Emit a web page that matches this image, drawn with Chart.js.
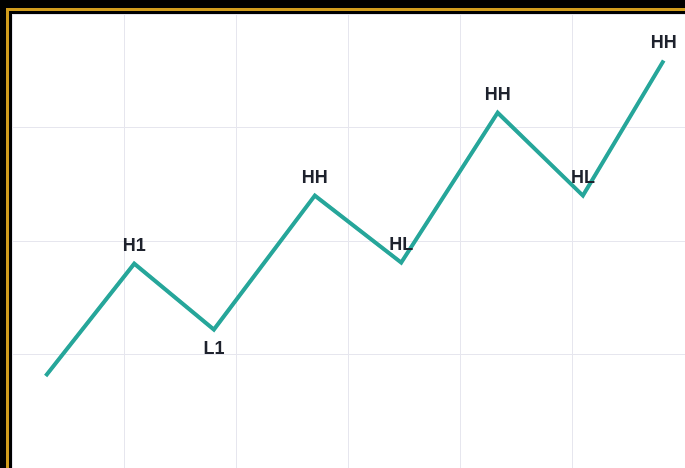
<!DOCTYPE html>
<html>
<head>
<meta charset="utf-8">
<script src="https://cdn.jsdelivr.net/npm/chart.js@4.4.0/dist/chart.umd.min.js"></script>
<style>
  html, body { margin: 0; padding: 0; background: #000; width: 685px; height: 468px; overflow: hidden; }
  .frame { position: absolute; left: 6px; top: 8px; width: 700px; height: 500px; border: 3px solid #d19c1d; box-sizing: border-box; background: #000; }
  .box { position: absolute; left: 12px; top: 14px; width: 673px; height: 454px; background: #fff; }
</style>
</head>
<body>
<div class="frame"></div>
<div class="box"><canvas id="grafico"></canvas></div>
<script>
// puntos del zigzag
var xValues = [3, 10.9, 18, 27, 34.7, 43.3, 50.9, 58.1];
var yValues = [8.1, 18, 12.2, 24, 18.1, 31.3, 24, 35.9];
var pointTags = ['', 'H1', 'L1', 'HH', 'HL', 'HH', 'HL', 'HH'];
var tagBelow = [false, false, true, false, false, false, false, false];

var puntos = xValues.map(function (x, i) { return { x: x, y: yValues[i] }; });

// etiquetas encima / debajo de cada punto
var etiquetas = {
    id: 'etiquetas',
    afterDatasetsDraw: function (chart) {
        var ctx = chart.ctx;
        var meta = chart.getDatasetMeta(0);
        ctx.save();
        ctx.font = 'bold 18px "Liberation Sans", Arial, sans-serif';
        ctx.fillStyle = '#1e222d';
        ctx.textAlign = 'center';
        ctx.textBaseline = 'middle';
        meta.data.forEach(function (p, i) {
            if (!pointTags[i]) return;
            var dy = tagBelow[i] ? 20 : -18;
            ctx.fillText(pointTags[i], p.x, p.y + dy);
        });
        ctx.restore();
    }
};

var ctx = document.getElementById('grafico').getContext('2d');
var myChart = new Chart(ctx, {
    type: 'line',
    data: {
        datasets: [{
            data: puntos,
            borderColor: '#26a69a',
            borderWidth: 4,
            pointRadius: 0,
            tension: 0,
            fill: false
        }]
    },
    options: {
        responsive: true,
        maintainAspectRatio: false,
        animation: false,
        layout: { padding: 0 },
        plugins: {
            legend: { display: false },
            tooltip: { enabled: false }
        },
        scales: {
            x: {
                type: 'linear',
                min: 0,
                max: 60,
                ticks: { display: false, stepSize: 10 },
                grid: { color: '#e6e6ee', lineWidth: 1, drawTicks: false },
                border: { display: false }
            },
            y: {
                min: 0,
                max: 40,
                ticks: { display: false, stepSize: 10 },
                grid: { color: '#e6e6ee', lineWidth: 1, drawTicks: false },
                border: { display: false }
            }
        }
    },
    plugins: [etiquetas]
});
</script>
</body>
</html>
